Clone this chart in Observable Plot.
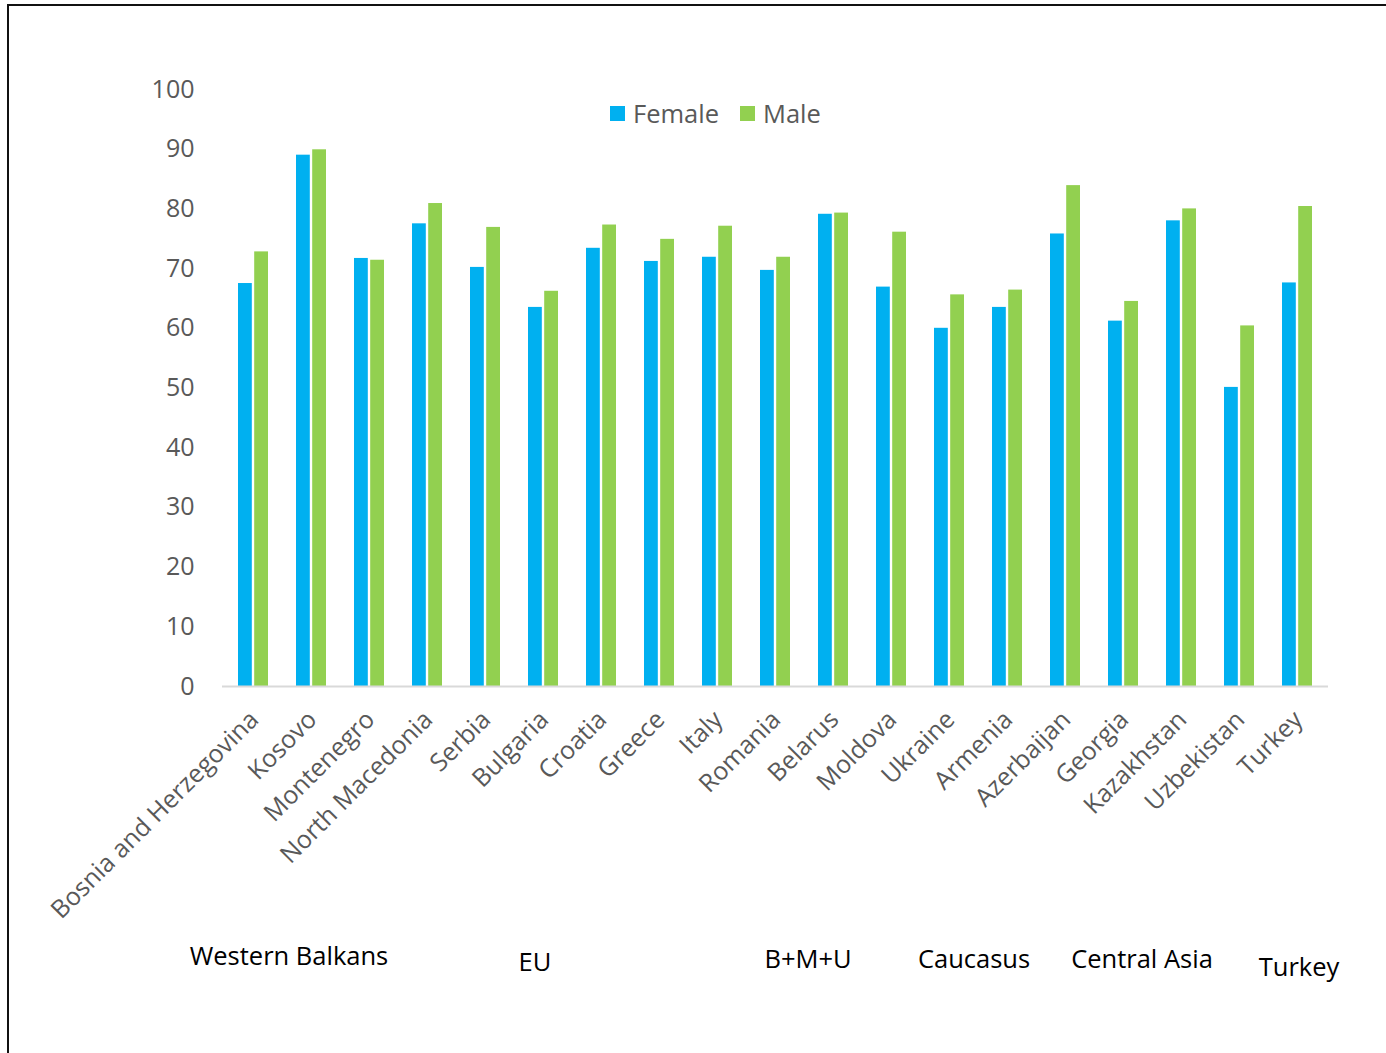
<!DOCTYPE html>
<html><head><meta charset="utf-8">
<script src="https://cdn.jsdelivr.net/npm/d3@7"></script>
<script src="https://cdn.jsdelivr.net/npm/@observablehq/plot@0.6"></script>
<style>
body{margin:0;background:#fff;font-family:"Open Sans",sans-serif;}
#wrap{position:relative;width:1386px;height:1053px;overflow:hidden;background:#fff;}
#frame{position:absolute;left:7px;top:4px;width:1420px;height:1100px;border:2px solid #111;box-sizing:border-box;pointer-events:none;}
#chart{position:absolute;left:0;top:0;}
.legend{position:absolute;left:610px;top:96px;display:flex;align-items:center;font-size:25.5px;color:#595959;}
.legend .sw{width:15px;height:15px;display:inline-block;margin-right:8px;}
.legend .item{display:flex;align-items:center;margin-right:21px;}
.grp{position:absolute;font-size:25.5px;color:#000;white-space:nowrap;transform:translate(-50%,-50%);}
</style></head>
<body>
<div id="wrap">
  <div id="chart"></div>
  <div class="legend" id="legend"></div>
  <div id="groups"></div>
  <div id="frame"></div>
</div>
<script>
const countries = ["Bosnia and Herzegovina","Kosovo","Montenegro","North Macedonia","Serbia","Bulgaria","Croatia","Greece","Italy","Romania","Belarus","Moldova","Ukraine","Armenia","Azerbaijan","Georgia","Kazakhstan","Uzbekistan","Turkey"];
const female = [67.5,89.0,71.7,77.5,70.2,63.5,73.4,71.2,71.9,69.7,79.1,66.9,60.0,63.5,75.8,61.2,78.0,50.1,67.6];
const male   = [72.8,89.9,71.4,80.9,76.9,66.2,77.3,74.9,77.1,71.9,79.3,76.1,65.6,66.4,83.9,64.5,80.0,60.4,80.4];
const series = ["Female","Male"];
const colors = ["#00B0F0","#92D050"];
const yTicks = [0,10,20,30,40,50,60,70,80,90,100];
const groups = ["Western Balkans","EU","B+M+U","Caucasus","Central Asia","Turkey"];
// layout (pixel positions of the group captions)
const groupPos = [[289,955],[535,961],[808,958],[974,958],[1142,958],[1299,966]];

const rows = countries.map((c,i)=>({country:c, female:female[i], male:male[i]}));

const chart = Plot.plot({
  width:1386, height:1053,
  marginLeft:222, marginRight:58, marginTop:89, marginBottom:367,
  style:{fontFamily:"'Open Sans',sans-serif", fontSize:"25px", color:"#595959", background:"transparent", overflow:"visible"},
  x:{domain:countries, paddingInner:0.485, paddingOuter:0.2425},
  y:{domain:[0,100]},
  marks:[
    Plot.barY(rows,{x:"country", y:"female", fill:colors[0], insetRight:16.2}),
    Plot.barY(rows,{x:"country", y:"male", fill:colors[1], insetLeft:16.2}),
    Plot.ruleY([0],{stroke:"#d9d9d9", strokeWidth:2}),
    Plot.axisY({ticks:yTicks, tickSize:0, tickPadding:28, label:null, fontSize:25, fill:"#595959"}),
    Plot.axisX({tickRotate:-45, tickSize:0, tickPadding:29, dx:1, label:null, fontSize:25, fill:"#595959"})
  ]
});
document.getElementById("chart").appendChild(chart);

const leg = document.getElementById("legend");
series.forEach((s,i)=>{
  const it = document.createElement("div"); it.className="item";
  it.innerHTML = `<span class="sw" style="background:${colors[i]}"></span>${s}`;
  leg.appendChild(it);
});
const g = document.getElementById("groups");
groups.forEach((t,i)=>{
  const d = document.createElement("div"); d.className="grp";
  d.style.left = groupPos[i][0]+"px"; d.style.top = groupPos[i][1]+"px";
  d.textContent = t; g.appendChild(d);
});
</script>
</body></html>
